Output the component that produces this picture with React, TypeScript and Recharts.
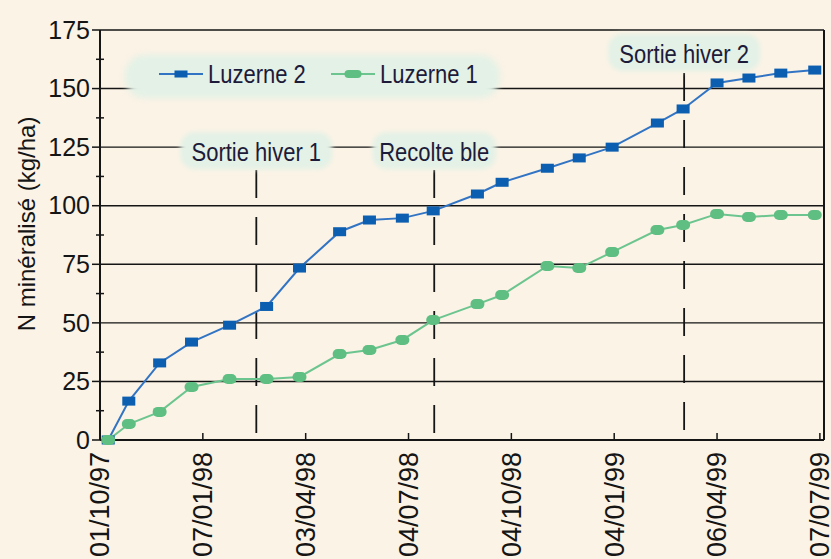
import React from "react";
import {
  LineChart, Line, XAxis, YAxis, CartesianGrid, Legend, ReferenceLine, ReferenceDot,
} from "recharts";

// sampling dates, in quarters from 01/10/97 (axis ticks are evenly spaced)
const SAMPLE_X = [0.08, 0.28, 0.58, 0.89, 1.26, 1.62, 1.94, 2.33, 2.62, 2.94, 3.24, 3.67, 3.91, 4.35, 4.66, 4.98, 5.42, 5.67, 6.0, 6.31, 6.62, 6.95];
const LUZERNE_2 = [0, 16.6, 32.9, 41.8, 49, 57, 73.4, 88.9, 93.9, 94.7, 97.8, 105, 110, 116, 120.4, 125, 135.3, 141.3, 152.4, 154.5, 156.6, 157.9];
const LUZERNE_1 = [0, 6.8, 12, 22.6, 26, 26, 26.9, 36.7, 38.4, 42.7, 51.2, 58, 61.9, 74.3, 73.4, 80.2, 89.6, 91.8, 96.5, 95.2, 96, 96];

const SERIES_NAMES = ["Luzerne 2", "Luzerne 1"];

const X_TICKS = [0, 1, 2, 3, 4, 5, 6, 7];
const X_TICK_LABELS = ["01/10/97", "07/01/98", "03/04/98", "04/07/98", "04/10/98", "04/01/99", "06/04/99", "07/07/99"];
const X_MAX = 7.04;
const Y_TICKS = [0, 12.5, 25, 37.5, 50, 62.5, 75, 87.5, 100, 112.5, 125, 137.5, 150, 162.5, 175];
const Y_GRID = [0, 25, 50, 75, 100, 125, 150, 175];

const EVENT_LABELS = ["Sortie hiver 1", "Recolte ble", "Sortie hiver 2"];
const EVENT_X = [1.52, 3.25, 5.68];
const EVENT_TOP = [115.2, 115.2, 156.6];
const EVENT_LABEL_Y = [123.3, 123.3, 165.2];

const BG = "#fbf3e6";
const TAG_BG = "#e3f1e6";
const INK = "#151515";
const TEXT_INK = "#1d1b3a";
const BLUE = "#0b5eb0";
const BLUE_LINE = "#3274c4";
const GREEN = "#5fbe82";
const GREEN_LINE = "#6cc58e";
const FONT = "'Liberation Sans', Arial, sans-serif";
const SQUEEZE = 0.83; // the original uses a condensed face

const data = SAMPLE_X.map((x, i) => ({ x, l2: LUZERNE_2[i], l1: LUZERNE_1[i] }));

function YTick(props: any) {
  const { x, y, payload } = props;
  const v = payload.value;
  if (v % 25 !== 0) {
    return <line x1={x - 4} x2={x + 4} y1={y} y2={y} stroke={INK} strokeWidth={1.5} />;
  }
  return (
    <g>
      <line x1={x - 8} x2={x} y1={y} y2={y} stroke={INK} strokeWidth={1.5} />
      <text x={x - 10} y={y} dy="0.35em" textAnchor="end" fontSize={25} fontFamily={FONT} fill={INK}>
        {v}
      </text>
    </g>
  );
}

function XTick(props: any) {
  const { x, y, payload } = props;
  const ty = y + 12;
  return (
    <g>
      <line x1={x} x2={x} y1={y} y2={y - 7} stroke={INK} strokeWidth={1.5} />
      <text
        x={x} y={ty} dy="0.35em" textAnchor="end" transform={`rotate(-90 ${x} ${ty})`}
        fontSize={27} fontFamily={FONT} fill={INK}
      >
        {X_TICK_LABELS[payload.value]}
      </text>
    </g>
  );
}

function YLabel(props: any) {
  const vb = props.viewBox;
  const cx = vb.x - 13;
  const cy = vb.y + vb.height / 2 - 11;
  return (
    <text x={cx} y={cy} dy="0.35em" textAnchor="middle" transform={`rotate(-90 ${cx} ${cy})`} fontFamily={FONT} fill={INK} fontSize={24}>
      N minéralisé (kg/ha)
    </text>
  );
}

function SquareDot(props: any) {
  const { cx, cy, index } = props;
  return <rect key={`sq-${index}`} x={cx - 6.5} y={cy - 4.5} width={13} height={9} fill={BLUE} />;
}

function RoundDot(props: any) {
  const { cx, cy, index } = props;
  return <rect key={`rd-${index}`} x={cx - 7} y={cy - 5} width={14} height={10} rx={5} fill={GREEN} />;
}

function eventTag(text: string) {
  return (props: any) => {
    const { cx, cy } = props;
    const w = text.length * 9.4 + 20;
    return (
      <g>
        <rect x={cx - w / 2} y={cy - 19} width={w} height={37} rx={14} fill={TAG_BG} filter="url(#soft)" />
        <text
          x={0} y={0} dy="0.36em" textAnchor="middle" transform={`translate(${cx} ${cy}) scale(${SQUEEZE} 1)`}
          fontSize={26.5} fontFamily={FONT} fill={TEXT_INK}
        >
          {text}
        </text>
      </g>
    );
  };
}

function LegendBox() {
  return (
    <div style={{ position: "relative", width: 375, height: 43 }}>
      <div style={{ position: "absolute", inset: 0, background: TAG_BG, borderRadius: 20, filter: "blur(3px)" }} />
      <svg width={375} height={43} style={{ position: "absolute", left: 0, top: 0 }}>
        {SERIES_NAMES.map((name, i) => {
          const x0 = i === 0 ? 34 : 206;
          return (
            <g key={name}>
              <line x1={x0} x2={x0 + 44} y1={19} y2={19} stroke={i === 0 ? BLUE_LINE : GREEN_LINE} strokeWidth={2} />
              {i === 0 ? (
                <rect x={x0 + 15.5} y={15.5} width={13} height={7} fill={BLUE} />
              ) : (
                <rect x={x0 + 13.5} y={15} width={17} height={8} rx={4} fill={GREEN} />
              )}
              <text
                x={0} y={0} dy="0.36em" transform={`translate(${x0 + 49} 18) scale(${SQUEEZE} 1)`}
                fontSize={26.5} fontFamily={FONT} fill={TEXT_INK}
              >
                {name}
              </text>
            </g>
          );
        })}
      </svg>
    </div>
  );
}

export default function App() {
  return (
    <div style={{ position: "fixed", left: 0, top: 0, width: 831, height: 559, background: BG, overflow: "hidden" }}>
      <LineChart width={831} height={559} data={data} margin={{ top: 30, right: 7, left: 40, bottom: 0 }}>
        <defs>
          <filter id="soft" x="-10%" y="-30%" width="120%" height="160%">
            <feGaussianBlur stdDeviation="2.5" />
          </filter>
        </defs>
        <CartesianGrid vertical={false} horizontalValues={Y_GRID} stroke={INK} strokeWidth={1.4} />
        <XAxis
          type="number" dataKey="x" domain={[0, X_MAX]} ticks={X_TICKS} interval={0}
          height={119} tickLine={false} tickSize={0} tickMargin={0} tick={XTick}
          axisLine={{ stroke: INK, strokeWidth: 2 }}
        />
        <YAxis
          domain={[0, 175]} ticks={Y_TICKS} interval={0} width={60}
          tickLine={false} tickSize={0} tickMargin={0} tick={YTick}
          axisLine={{ stroke: INK, strokeWidth: 2 }}
          label={{ content: YLabel }}
        />
        <ReferenceLine x={X_MAX} stroke={INK} strokeWidth={2} />
        {EVENT_X.map((x, i) => (
          <ReferenceLine
            key={`ev-${i}`}
            segment={[{ x, y: EVENT_TOP[i] }, { x, y: 0 }]}
            stroke={INK} strokeWidth={1.8} strokeDasharray="28 19"
          />
        ))}
        {EVENT_X.map((x, i) => (
          <ReferenceDot
            key={`tag-${i}`} x={x} y={EVENT_LABEL_Y[i]} r={0} ifOverflow="visible"
            shape={eventTag(EVENT_LABELS[i])}
          />
        ))}
        <Legend
          content={LegendBox} layout="horizontal" verticalAlign="middle" align="center"
          wrapperStyle={{ left: 125, top: 55, width: 375, height: 43 }}
        />
        <Line
          dataKey="l2" name={SERIES_NAMES[0]} stroke={BLUE_LINE} strokeWidth={2}
          dot={SquareDot} activeDot={false} isAnimationActive={false}
        />
        <Line
          dataKey="l1" name={SERIES_NAMES[1]} stroke={GREEN_LINE} strokeWidth={2}
          dot={RoundDot} activeDot={false} isAnimationActive={false}
        />
      </LineChart>
    </div>
  );
}
